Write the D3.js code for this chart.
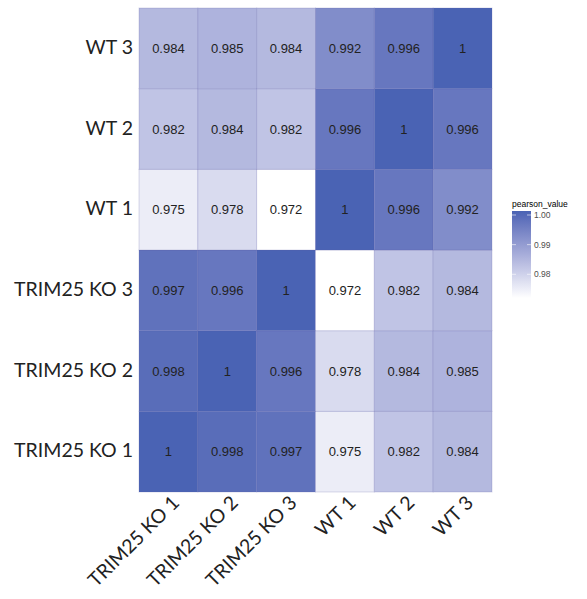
<!DOCTYPE html>
<html>
<head>
<meta charset="utf-8">
<script src="https://cdn.jsdelivr.net/npm/d3@7"></script>
<style>
  body { margin: 0; background: #fff; }
  svg { display: block; }
</style>
</head>
<body>
<div id="chart"></div>
<script>
(function heatmap() {
    'use strict';

    /* data */

    var samples = ['TRIM25 KO 1', 'TRIM25 KO 2', 'TRIM25 KO 3', 'WT 1', 'WT 2', 'WT 3'];

    // one row per sample (same order as samples), one value per column
    var rowKO1 = [1, 0.998, 0.997, 0.975, 0.982, 0.984];
    var rowKO2 = [0.998, 1, 0.996, 0.978, 0.984, 0.985];
    var rowKO3 = [0.997, 0.996, 1, 0.972, 0.982, 0.984];
    var rowWT1 = [0.975, 0.978, 0.972, 1, 0.996, 0.992];
    var rowWT2 = [0.982, 0.984, 0.982, 0.996, 1, 0.996];
    var rowWT3 = [0.984, 0.985, 0.984, 0.992, 0.996, 1];
    var rows = [rowKO1, rowKO2, rowKO3, rowWT1, rowWT2, rowWT3];

    var legendTicks = [0.98, 0.99, 1.00];
    var legendTitle = 'pearson_value';

    /* layout */

    var width = 587, height = 599;
    var plot = { left: 139, right: 492, top: 8, bottom: 492 };

    var svg = d3.select('#chart').append('svg')
        .attr('width', width)
        .attr('height', height)
    ;

    var x = d3.scaleBand().domain(samples).range([plot.left, plot.right]);
    var y = d3.scaleBand().domain(samples).range([plot.bottom, plot.top]);

    var vmin = d3.min(rows, function (r) { return d3.min(r); });
    var vmax = d3.max(rows, function (r) { return d3.max(r); });
    var color = d3.scaleLinear()
        .domain([vmin, vmax])
        .range(['#ffffff', '#4a63b4'])
        .interpolate(d3.interpolateLab)
    ;

    var cells = [];
    rows.forEach(function (r, i) {
        r.forEach(function (v, j) {
            cells.push({ row: samples[i], col: samples[j], value: v });
        });
    });

    /* tiles */

    var g = svg.append('g');

    g.selectAll('rect.tile')
        .data(cells)
        .enter()
        .append('rect')
        .attr('class', 'tile')
        .attr('x', function (d) { return x(d.col); })
        .attr('y', function (d) { return y(d.row); })
        .attr('width', x.bandwidth())
        .attr('height', y.bandwidth())
        .attr('fill', function (d) { return color(d.value); })
        .attr('stroke', 'rgba(90,90,170,0.22)')
        .attr('stroke-width', 1)
    ;

    g.selectAll('text.val')
        .data(cells)
        .enter()
        .append('text')
        .attr('class', 'val')
        .attr('x', function (d) { return x(d.col) + x.bandwidth() / 2; })
        .attr('y', function (d) { return y(d.row) + y.bandwidth() / 2; })
        .attr('dy', '0.36em')
        .attr('text-anchor', 'middle')
        .style('font-family', 'Liberation Sans, Arial, sans-serif')
        .style('font-size', '13px')
        .style('fill', '#222')
        .text(function (d) { return String(d.value); })
    ;

    /* axes (labels only) */

    var labelFont = 'Lato, "Open Sans", sans-serif';

    svg.append('g')
        .selectAll('text')
        .data(samples)
        .enter()
        .append('text')
        .attr('x', plot.left - 6)
        .attr('y', function (d) { return y(d) + y.bandwidth() / 2 - 1; })
        .attr('dy', '0.35em')
        .attr('text-anchor', 'end')
        .style('font-family', labelFont)
        .style('font-size', '19.5px')
        .style('fill', '#222')
        .text(function (d) { return d; })
    ;

    svg.append('g')
        .selectAll('text')
        .data(samples)
        .enter()
        .append('text')
        .attr('transform', function (d) {
            var cx = x(d) + x.bandwidth() / 2 + 12;
            return 'translate(' + cx + ',' + (plot.bottom + 12) + ') rotate(-45)';
        })
        .attr('text-anchor', 'end')
        .style('font-family', labelFont)
        .style('font-size', '19.5px')
        .style('fill', '#222')
        .text(function (d) { return d; })
    ;

    /* legend */

    var bar = { x: 512, top: 211, bottom: 298, w: 19 };
    var ly = d3.scaleLinear().domain([vmin, vmax]).range([bar.bottom, bar.top + 4]);

    var defs = svg.append('defs');
    var grad = defs.append('linearGradient')
        .attr('id', 'legend-grad')
        .attr('x1', 0).attr('y1', 1)
        .attr('x2', 0).attr('y2', 0)
    ;
    d3.range(0, 1.0001, 0.1).forEach(function (t) {
        grad.append('stop')
            .attr('offset', t)
            .attr('stop-color', color(vmin + t * (vmax - vmin)))
        ;
    });

    var legend = svg.append('g');

    legend.append('text')
        .attr('x', bar.x)
        .attr('y', bar.top - 4)
        .style('font-family', 'Liberation Sans, Arial, sans-serif')
        .style('font-size', '8.5px')
        .style('fill', '#000')
        .text(legendTitle)
    ;

    legend.append('rect')
        .attr('x', bar.x)
        .attr('y', bar.top)
        .attr('width', bar.w)
        .attr('height', bar.bottom - bar.top)
        .attr('fill', 'url(#legend-grad)')
    ;

    var ticks = legend.selectAll('g.tick')
        .data(legendTicks)
        .enter()
        .append('g')
        .attr('class', 'tick')
        .attr('transform', function (d) { return 'translate(0,' + ly(d) + ')'; })
    ;

    ticks.append('line')
        .attr('x1', bar.x).attr('x2', bar.x + 4)
        .attr('stroke', '#fff').attr('stroke-width', 0.6)
    ;
    ticks.append('line')
        .attr('x1', bar.x + bar.w - 4).attr('x2', bar.x + bar.w)
        .attr('stroke', '#fff').attr('stroke-width', 0.6)
    ;
    ticks.append('text')
        .attr('x', bar.x + bar.w + 3)
        .attr('dy', '0.35em')
        .style('font-family', 'Liberation Sans, Arial, sans-serif')
        .style('font-size', '8.5px')
        .style('fill', '#4d4d4d')
        .text(function (d) { return d3.format('.2f')(d); })
    ;
})();
</script>
</body>
</html>
